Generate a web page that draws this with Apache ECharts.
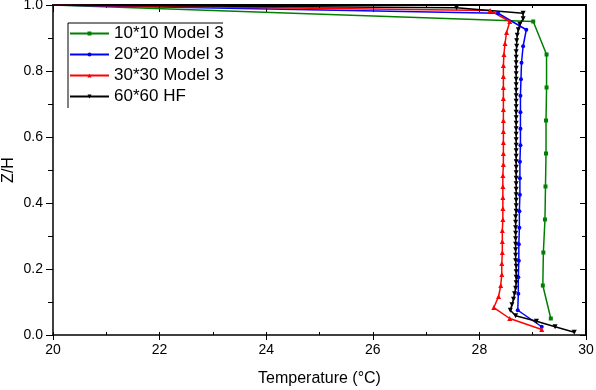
<!DOCTYPE html>
<html>
<head>
<meta charset="utf-8">
<script src="https://cdn.jsdelivr.net/npm/echarts@6/dist/echarts.min.js"></script>
<style>
  html, body { margin: 0; padding: 0; background: #fff; }
  #chart { width: 596px; height: 390px; }
</style>
</head>
<body>
<div id="chart"></div>
<script>
// 10*10 Model 3
const greenZ = [1.0, 0.95, 0.85, 0.75, 0.65, 0.55, 0.45, 0.35, 0.25, 0.15, 0.05];
const greenT = [20, 29.01, 29.26, 29.26, 29.25, 29.25, 29.24, 29.23, 29.2, 29.19, 29.34];

// 20*20 Model 3
const blueZ = [1.0, 0.975, 0.925, 0.875, 0.825, 0.775, 0.725, 0.675, 0.625, 0.575, 0.525,
    0.475, 0.425, 0.375, 0.325, 0.275, 0.225, 0.175, 0.125, 0.075, 0.025];
const blueT = [20, 28.35, 28.88, 28.82, 28.79, 28.78, 28.77, 28.77, 28.77, 28.77, 28.76,
    28.76, 28.76, 28.75, 28.75, 28.74, 28.74, 28.73, 28.73, 28.72, 29.17];

// 30*30 Model 3
const redZ = [1.0, 0.9833, 0.95, 0.9167, 0.8833, 0.85, 0.8167, 0.7833, 0.75, 0.7167, 0.6833,
    0.65, 0.6167, 0.5833, 0.55, 0.5167, 0.4833, 0.45, 0.4167, 0.3833, 0.35,
    0.3167, 0.2833, 0.25, 0.2167, 0.1833, 0.15, 0.1167, 0.0833, 0.05, 0.0167];
const redT = [20, 28.2, 28.57, 28.51, 28.48, 28.46, 28.45, 28.45, 28.45, 28.45, 28.45,
    28.45, 28.45, 28.45, 28.45, 28.45, 28.44, 28.44, 28.44, 28.44, 28.44,
    28.43, 28.43, 28.43, 28.42, 28.42, 28.4, 28.36, 28.27, 28.57, 29.17];

// 60*60 HF
const blackZ = [1.0,
    0.9917, 0.975, 0.9583, 0.9417, 0.925, 0.9083, 0.8917, 0.875, 0.8583, 0.8417,
    0.825, 0.8083, 0.7917, 0.775, 0.7583, 0.7417, 0.725, 0.7083, 0.6917, 0.675,
    0.6583, 0.6417, 0.625, 0.6083, 0.5917, 0.575, 0.5583, 0.5417, 0.525, 0.5083,
    0.4917, 0.475, 0.4583, 0.4417, 0.425, 0.4083, 0.3917, 0.375, 0.3583, 0.3417,
    0.325, 0.3083, 0.2917, 0.275, 0.2583, 0.2417, 0.225, 0.2083, 0.1917, 0.175,
    0.1583, 0.1417, 0.125, 0.1083, 0.0917, 0.075, 0.0583, 0.0417, 0.025, 0.0083];
const blackT = [20,
    27.57, 28.82, 28.82, 28.76, 28.73, 28.71, 28.7, 28.7, 28.69, 28.69,
    28.69, 28.69, 28.69, 28.69, 28.69, 28.69, 28.69, 28.69, 28.69, 28.69,
    28.69, 28.69, 28.69, 28.69, 28.69, 28.69, 28.69, 28.69, 28.69, 28.69,
    28.69, 28.69, 28.69, 28.69, 28.69, 28.69, 28.69, 28.69, 28.68, 28.68,
    28.68, 28.68, 28.68, 28.68, 28.68, 28.68, 28.68, 28.69, 28.69, 28.69,
    28.69, 28.68, 28.66, 28.64, 28.61, 28.58, 28.68, 29.07, 29.42, 29.78];

const names = ['10*10 Model 3', '20*20 Model 3', '30*30 Model 3', '60*60 HF'];
const xTicks = [20, 22, 24, 26, 28, 30];
const yTicks = [0, 0.2, 0.4, 0.6, 0.8, 1.0];

const FONT = 'Liberation Sans, Arial, sans-serif';

function pairs(xs, ys) {
    // first point sits on the wall (Z/H = 1), no marker drawn there
    return xs.map((x, i) => i === 0 ? { value: [x, ys[i]], symbol: 'none' } : [x, ys[i]]);
}

function makeSeries(name, xs, ys, color, symbol, size, rotate) {
    return {
        name: name,
        type: 'line',
        xAxisIndex: 0,
        yAxisIndex: 0,
        data: pairs(xs, ys),
        symbol: symbol,
        symbolSize: size,
        symbolRotate: rotate || 0,
        showSymbol: true,
        showAllSymbol: true,
        lineStyle: { color: color, width: 1.5 },
        itemStyle: { color: color },
        emphasis: { disabled: true },
        z: 3
    };
}

const chart = echarts.init(document.getElementById('chart'), null, { renderer: 'canvas' });

chart.setOption({
    animation: false,
    backgroundColor: '#fff',
    textStyle: { fontFamily: FONT },
    grid: { left: 53, right: 10, top: 5, bottom: 55, containLabel: false, outerBoundsMode: 'none' },
    legend: {
        orient: 'vertical',
        left: 69,
        top: 25,
        padding: 0,
        itemGap: 4,
        itemWidth: 39,
        itemHeight: 5,
        data: names,
        textStyle: { fontSize: 17, color: '#000', fontFamily: FONT }
    },
    graphic: [{
        type: 'polyline',
        shape: { points: [[68, 108], [68, 23], [223, 23]] },
        style: { stroke: '#000', lineWidth: 1, fill: null }
    }],
    xAxis: [{
        type: 'value',
        min: xTicks[0],
        max: xTicks[xTicks.length - 1],
        interval: 2,
        position: 'bottom',
        name: 'Temperature (°C)',
        nameLocation: 'middle',
        nameGap: 36,
        nameMoveOverlap: false,
        nameTextStyle: { fontSize: 16, color: '#000', fontFamily: FONT },
        axisLine: { show: true, onZero: false, lineStyle: { color: '#000', width: 1.5 } },
        axisTick: { show: true, length: 5, lineStyle: { color: '#000', width: 1 } },
        axisLabel: { color: '#000', fontSize: 14, margin: 8, fontFamily: FONT },
        splitLine: { show: false }
    }, {
        type: 'value',
        min: 20,
        max: 30,
        interval: 1,
        position: 'bottom',
        axisLine: { show: false, onZero: false },
        axisTick: { show: true, inside: true, length: 3, lineStyle: { color: '#000' } },
        axisLabel: { show: false },
        splitLine: { show: false }
    }, {
        type: 'value',
        min: 20,
        max: 30,
        interval: 2,
        position: 'top',
        axisLine: { show: true, onZero: false, lineStyle: { color: '#000', width: 2 } },
        axisTick: { show: true, inside: true, length: 7, lineStyle: { color: '#000' } },
        minorTick: { show: true, splitNumber: 2, length: 3, lineStyle: { color: '#000' } },
        axisLabel: { show: false },
        splitLine: { show: false }
    }],
    yAxis: [{
        type: 'value',
        min: yTicks[0],
        max: yTicks[yTicks.length - 1],
        interval: 0.2,
        position: 'left',
        name: 'Z/H',
        nameLocation: 'middle',
        nameGap: 36,
        nameMoveOverlap: false,
        nameTextStyle: { fontSize: 16, color: '#000', fontFamily: FONT },
        axisLine: { show: true, onZero: false, lineStyle: { color: '#000', width: 1.5 } },
        axisTick: { show: true, length: 7, lineStyle: { color: '#000' } },
        minorTick: { show: true, splitNumber: 2, length: 5, lineStyle: { color: '#000' } },
        axisLabel: { color: '#000', fontSize: 14, margin: 10, fontFamily: FONT,
            formatter: v => v.toFixed(1) },
        splitLine: { show: false }
    }, {
        type: 'value',
        min: 0,
        max: 1,
        interval: 0.2,
        position: 'right',
        axisLine: { show: true, onZero: false, lineStyle: { color: '#000', width: 2 } },
        axisTick: { show: true, inside: true, length: 6, lineStyle: { color: '#000' } },
        minorTick: { show: true, splitNumber: 2, length: 4, lineStyle: { color: '#000' } },
        axisLabel: { show: false },
        splitLine: { show: false }
    }],
    series: [
        makeSeries(names[0], greenT, greenZ, '#008000', 'rect', 4),
        makeSeries(names[1], blueT, blueZ, '#0000ff', 'circle', 4),
        makeSeries(names[2], redT, redZ, '#ff0000', 'triangle', 5),
        makeSeries(names[3], blackT, blackZ, '#000000', 'triangle', 5, 180)
    ]
});
</script>
</body>
</html>
